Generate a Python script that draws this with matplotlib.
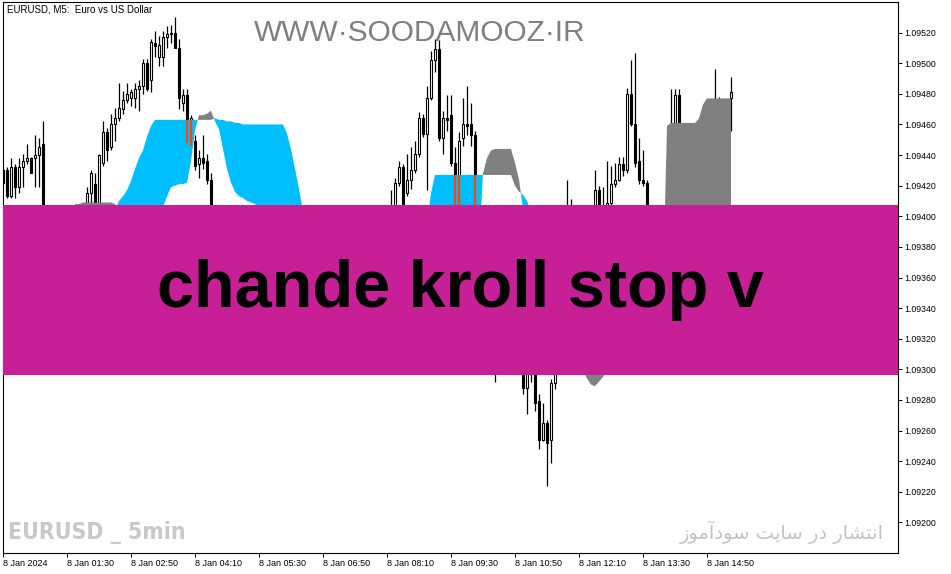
import os
import numpy as np
import matplotlib
matplotlib.use("Agg")
import matplotlib.pyplot as plt
from matplotlib import font_manager as fm
from matplotlib.patches import Rectangle

plt.rcParams['font.family'] = ['Liberation Sans', 'DejaVu Sans']

# ---------------- data (EURUSD M5, bar index 0..182) ----------------
opens = [1.09430, 1.09430, 1.09413, 1.09432, 1.09419, 1.09432, 1.09436, 1.09438, 1.09438, 1.09440,
         1.09447, 1.09360, 1.09350, 1.09345, 1.09362, 1.09372, 1.09360, 1.09370, 1.09385, 1.09378,
         1.09390, 1.09398, 1.09415, 1.09421, 1.09398, 1.09435, 1.09455, 1.09445, 1.09460, 1.09464,
         1.09470, 1.09476, 1.09477, 1.09477, 1.09483, 1.09485, 1.09500, 1.09489, 1.09513, 1.09504,
         1.09504, 1.09517, 1.09519, 1.09520, 1.09510, 1.09474, 1.09479, 1.09449, 1.09449, 1.09434,
         1.09438, 1.09436, 1.09424, 1.09395, 1.09388, 1.09380, 1.09372, 1.09375, 1.09366, 1.09360,
         1.09352, 1.09356, 1.09348, 1.09340, 1.09345, 1.09338, 1.09330, 1.09325, 1.09332, 1.09328,
         1.09320, 1.09315, 1.09322, 1.09318, 1.09325, 1.09335, 1.09330, 1.09340, 1.09348, 1.09344,
         1.09352, 1.09360, 1.09355, 1.09362, 1.09370, 1.09366, 1.09372, 1.09378, 1.09374, 1.09380,
         1.09386, 1.09382, 1.09388, 1.09384, 1.09390, 1.09386, 1.09392, 1.09395, 1.09400, 1.09422,
         1.09432, 1.09415, 1.09424, 1.09430, 1.09441, 1.09464, 1.09454, 1.09477, 1.09502, 1.09509,
         1.09451, 1.09464, 1.09466, 1.09435, 1.09400, 1.09451, 1.09460, 1.09460, 1.09453, 1.09395,
         1.09378, 1.09355, 1.09325, 1.09332, 1.09312, 1.09325, 1.09318, 1.09322, 1.09315, 1.09320,
         1.09318, 1.09288, 1.09305, 1.09300, 1.09279, 1.09254, 1.09265, 1.09254, 1.09291, 1.09305,
         1.09335, 1.09365, 1.09390, 1.09378, 1.09385, 1.09392, 1.09384, 1.09390, 1.09398, 1.09417,
         1.09400, 1.09398, 1.09409, 1.09421, 1.09424, 1.09434, 1.09430, 1.09480, 1.09460, 1.09436,
         1.09424, 1.09422, 1.09395, 1.09380, 1.09388, 1.09392, 1.09398, 1.09432, 1.09455, 1.09479,
         1.09455, 1.09450, 1.09445, 1.09455, 1.09452, 1.09458, 1.09465, 1.09470, 1.09466, 1.09472,
         1.09468, 1.09472, 1.09477]
highs = [1.09432, 1.09432, 1.09438, 1.09434, 1.09438, 1.09441, 1.09447, 1.09439, 1.09453, 1.09451,
         1.09462, 1.09378, 1.09365, 1.09370, 1.09380, 1.09385, 1.09378, 1.09390, 1.09398, 1.09395,
         1.09402, 1.09419, 1.09430, 1.09428, 1.09441, 1.09462, 1.09458, 1.09467, 1.09471, 1.09487,
         1.09482, 1.09487, 1.09483, 1.09487, 1.09489, 1.09503, 1.09503, 1.09516, 1.09521, 1.09518,
         1.09521, 1.09524, 1.09525, 1.09530, 1.09516, 1.09483, 1.09483, 1.09466, 1.09453, 1.09443,
         1.09453, 1.09441, 1.09428, 1.09400, 1.09396, 1.09388, 1.09384, 1.09380, 1.09372, 1.09366,
         1.09364, 1.09360, 1.09354, 1.09352, 1.09350, 1.09344, 1.09336, 1.09340, 1.09338, 1.09334,
         1.09326, 1.09330, 1.09328, 1.09332, 1.09342, 1.09340, 1.09346, 1.09355, 1.09352, 1.09358,
         1.09366, 1.09364, 1.09368, 1.09376, 1.09374, 1.09378, 1.09384, 1.09382, 1.09386, 1.09392,
         1.09390, 1.09394, 1.09392, 1.09396, 1.09394, 1.09398, 1.09401, 1.09417, 1.09425, 1.09436,
         1.09434, 1.09441, 1.09445, 1.09449, 1.09468, 1.09467, 1.09485, 1.09508, 1.09516, 1.09515,
         1.09469, 1.09479, 1.09479, 1.09445, 1.09455, 1.09477, 1.09485, 1.09474, 1.09456, 1.09402,
         1.09385, 1.09362, 1.09340, 1.09345, 1.09330, 1.09338, 1.09330, 1.09335, 1.09328, 1.09332,
         1.09328, 1.09312, 1.09318, 1.09306, 1.09284, 1.09278, 1.09267, 1.09294, 1.09315, 1.09340,
         1.09372, 1.09424, 1.09411, 1.09395, 1.09400, 1.09402, 1.09398, 1.09403, 1.09430, 1.09420,
         1.09419, 1.09436, 1.09433, 1.09435, 1.09439, 1.09439, 1.09484, 1.09502, 1.09507, 1.09451,
         1.09443, 1.09424, 1.09402, 1.09395, 1.09400, 1.09403, 1.09438, 1.09483, 1.09483, 1.09483,
         1.09460, 1.09458, 1.09459, 1.09460, 1.09462, 1.09470, 1.09475, 1.09476, 1.09496, 1.09478,
         1.09476, 1.09476, 1.09491]
lows = [1.09420, 1.09412, 1.09412, 1.09412, 1.09415, 1.09419, 1.09434, 1.09428, 1.09419, 1.09419,
        1.09355, 1.09340, 1.09330, 1.09335, 1.09350, 1.09355, 1.09345, 1.09362, 1.09370, 1.09368,
        1.09380, 1.09392, 1.09395, 1.09390, 1.09392, 1.09433, 1.09436, 1.09443, 1.09449, 1.09462,
        1.09467, 1.09474, 1.09472, 1.09471, 1.09469, 1.09480, 1.09482, 1.09481, 1.09504, 1.09498,
        1.09498, 1.09510, 1.09513, 1.09510, 1.09470, 1.09469, 1.09448, 1.09446, 1.09430, 1.09425,
        1.09431, 1.09421, 1.09380, 1.09382, 1.09374, 1.09366, 1.09368, 1.09360, 1.09354, 1.09346,
        1.09348, 1.09342, 1.09334, 1.09336, 1.09332, 1.09324, 1.09318, 1.09320, 1.09322, 1.09314,
        1.09308, 1.09310, 1.09312, 1.09314, 1.09320, 1.09324, 1.09326, 1.09335, 1.09338, 1.09340,
        1.09348, 1.09350, 1.09352, 1.09358, 1.09360, 1.09362, 1.09368, 1.09368, 1.09370, 1.09376,
        1.09376, 1.09378, 1.09378, 1.09380, 1.09380, 1.09382, 1.09386, 1.09385, 1.09395, 1.09420,
        1.09400, 1.09413, 1.09418, 1.09428, 1.09439, 1.09452, 1.09417, 1.09476, 1.09494, 1.09449,
        1.09441, 1.09456, 1.09433, 1.09390, 1.09395, 1.09446, 1.09453, 1.09446, 1.09385, 1.09372,
        1.09350, 1.09318, 1.09305, 1.09292, 1.09302, 1.09310, 1.09303, 1.09308, 1.09302, 1.09305,
        1.09284, 1.09271, 1.09292, 1.09273, 1.09248, 1.09253, 1.09224, 1.09239, 1.09287, 1.09300,
        1.09330, 1.09360, 1.09370, 1.09362, 1.09370, 1.09378, 1.09372, 1.09380, 1.09390, 1.09392,
        1.09385, 1.09390, 1.09407, 1.09419, 1.09423, 1.09426, 1.09428, 1.09459, 1.09432, 1.09421,
        1.09420, 1.09385, 1.09370, 1.09365, 1.09372, 1.09380, 1.09392, 1.09428, 1.09450, 1.09448,
        1.09440, 1.09438, 1.09440, 1.09445, 1.09445, 1.09450, 1.09458, 1.09460, 1.09460, 1.09462,
        1.09460, 1.09465, 1.09456]
closes = [1.09422, 1.09413, 1.09432, 1.09419, 1.09432, 1.09436, 1.09438, 1.09428, 1.09440, 1.09445,
          1.09360, 1.09350, 1.09345, 1.09362, 1.09372, 1.09360, 1.09370, 1.09385, 1.09378, 1.09390,
          1.09396, 1.09415, 1.09428, 1.09398, 1.09440, 1.09455, 1.09443, 1.09460, 1.09464, 1.09471,
          1.09476, 1.09480, 1.09481, 1.09483, 1.09485, 1.09500, 1.09483, 1.09514, 1.09511, 1.09512,
          1.09517, 1.09519, 1.09520, 1.09510, 1.09477, 1.09479, 1.09449, 1.09464, 1.09433, 1.09438,
          1.09435, 1.09424, 1.09395, 1.09388, 1.09380, 1.09372, 1.09375, 1.09366, 1.09360, 1.09352,
          1.09356, 1.09348, 1.09340, 1.09345, 1.09338, 1.09330, 1.09325, 1.09332, 1.09328, 1.09320,
          1.09315, 1.09322, 1.09318, 1.09325, 1.09335, 1.09330, 1.09340, 1.09348, 1.09344, 1.09352,
          1.09360, 1.09355, 1.09362, 1.09370, 1.09366, 1.09372, 1.09378, 1.09374, 1.09380, 1.09386,
          1.09382, 1.09388, 1.09384, 1.09390, 1.09386, 1.09392, 1.09395, 1.09400, 1.09422, 1.09432,
          1.09408, 1.09424, 1.09430, 1.09441, 1.09464, 1.09454, 1.09477, 1.09502, 1.09509, 1.09451,
          1.09464, 1.09463, 1.09435, 1.09400, 1.09449, 1.09460, 1.09459, 1.09453, 1.09395, 1.09378,
          1.09355, 1.09325, 1.09332, 1.09312, 1.09325, 1.09318, 1.09322, 1.09315, 1.09320, 1.09318,
          1.09288, 1.09305, 1.09300, 1.09278, 1.09254, 1.09265, 1.09252, 1.09291, 1.09305, 1.09335,
          1.09365, 1.09390, 1.09378, 1.09385, 1.09392, 1.09384, 1.09390, 1.09398, 1.09417, 1.09400,
          1.09395, 1.09409, 1.09421, 1.09424, 1.09434, 1.09430, 1.09480, 1.09460, 1.09435, 1.09424,
          1.09422, 1.09395, 1.09380, 1.09388, 1.09392, 1.09398, 1.09432, 1.09455, 1.09479, 1.09455,
          1.09450, 1.09445, 1.09455, 1.09452, 1.09458, 1.09465, 1.09470, 1.09466, 1.09472, 1.09468,
          1.09472, 1.09474, 1.09481]

# Chande Kroll stop lines (two stops; filled blue / gray between them)
stop_a = [1.09380, 1.09380, 1.09380, 1.09380, 1.09380, 1.09380, 1.09380, 1.09380, 1.09380, 1.09380,
          1.09380, 1.09380, 1.09380, 1.09380, 1.09380, 1.09380, 1.09380, 1.09380, 1.09385, 1.09385,
          1.09385, 1.09385, 1.09385, 1.09385, 1.09385, 1.09385, 1.09385, 1.09385, 1.09403, 1.09410,
          1.09413, 1.09417, 1.09423, 1.09431, 1.09438, 1.09443, 1.09452, 1.09459, 1.09463, 1.09463,
          1.09463, 1.09463, 1.09463, 1.09463, 1.09463, 1.09463, 1.09463, 1.09463, 1.09463, 1.09463,
          1.09463, 1.09463, 1.09463, 1.09464, 1.09463, 1.09463, 1.09462, 1.09462, 1.09461, 1.09461,
          1.09460, 1.09460, 1.09460, 1.09460, 1.09460, 1.09460, 1.09460, 1.09460, 1.09460, 1.09460,
          1.09460, 1.09454, 1.09444, 1.09431, 1.09418, 1.09403, 1.09385, 1.09385, 1.09385, 1.09385,
          1.09385, 1.09385, 1.09385, 1.09385, 1.09385, 1.09385, 1.09385, 1.09385, 1.09385, 1.09385,
          1.09385, 1.09385, 1.09385, 1.09385, 1.09385, 1.09385, 1.09385, 1.09385, 1.09385, 1.09385,
          1.09385, 1.09385, 1.09385, 1.09385, 1.09385, 1.09385, 1.09395, 1.09415, 1.09427, 1.09427,
          1.09427, 1.09427, 1.09427, 1.09427, 1.09427, 1.09427, 1.09427, 1.09427, 1.09427, 1.09427,
          1.09427, 1.09427, 1.09427, 1.09427, 1.09427, 1.09427, 1.09427, 1.09427, 1.09420, 1.09416,
          1.09414, 1.09410, 1.09403, 1.09370, 1.09370, 1.09370, 1.09370, 1.09370, 1.09370, 1.09370,
          1.09330, 1.09315, 1.09305, 1.09302, 1.09300, 1.09299, 1.09294, 1.09290, 1.09289, 1.09292,
          1.09295, 1.09300, 1.09305, 1.09371, 1.09371, 1.09371, 1.09371, 1.09371, 1.09371, 1.09371,
          1.09371, 1.09371, 1.09371, 1.09371, 1.09371, 1.09371, 1.09371, 1.09371, 1.09371, 1.09371,
          1.09371, 1.09371, 1.09371, 1.09371, 1.09371, 1.09371, 1.09371, 1.09371, 1.09371, 1.09371,
          1.09371, 1.09371, 1.09371]
stop_b = [1.09390, 1.09390, 1.09390, 1.09390, 1.09390, 1.09390, 1.09390, 1.09390, 1.09390, 1.09390,
          1.09390, 1.09390, 1.09390, 1.09390, 1.09390, 1.09390, 1.09390, 1.09390, 1.09408, 1.09408,
          1.09409, 1.09409, 1.09409, 1.09409, 1.09409, 1.09409, 1.09409, 1.09409, 1.09408, 1.09398,
          1.09398, 1.09398, 1.09398, 1.09398, 1.09398, 1.09398, 1.09398, 1.09398, 1.09398, 1.09398,
          1.09406, 1.09413, 1.09419, 1.09420, 1.09421, 1.09421, 1.09422, 1.09436, 1.09456, 1.09466,
          1.09466, 1.09467, 1.09469, 1.09462, 1.09457, 1.09444, 1.09431, 1.09422, 1.09416, 1.09413,
          1.09412, 1.09410, 1.09409, 1.09408, 1.09406, 1.09370, 1.09370, 1.09370, 1.09370, 1.09370,
          1.09370, 1.09370, 1.09370, 1.09370, 1.09370, 1.09370, 1.09370, 1.09370, 1.09370, 1.09370,
          1.09370, 1.09370, 1.09370, 1.09370, 1.09370, 1.09370, 1.09370, 1.09370, 1.09370, 1.09370,
          1.09370, 1.09370, 1.09370, 1.09370, 1.09370, 1.09370, 1.09370, 1.09370, 1.09370, 1.09370,
          1.09370, 1.09370, 1.09370, 1.09370, 1.09370, 1.09370, 1.09370, 1.09380, 1.09380, 1.09380,
          1.09380, 1.09380, 1.09380, 1.09380, 1.09380, 1.09380, 1.09380, 1.09380, 1.09380, 1.09380,
          1.09428, 1.09438, 1.09443, 1.09444, 1.09444, 1.09444, 1.09444, 1.09444, 1.09435, 1.09424,
          1.09405, 1.09395, 1.09390, 1.09350, 1.09350, 1.09350, 1.09350, 1.09350, 1.09350, 1.09350,
          1.09335, 1.09335, 1.09335, 1.09335, 1.09335, 1.09335, 1.09335, 1.09335, 1.09335, 1.09335,
          1.09335, 1.09335, 1.09335, 1.09350, 1.09350, 1.09350, 1.09350, 1.09350, 1.09350, 1.09350,
          1.09350, 1.09350, 1.09350, 1.09350, 1.09350, 1.09350, 1.09459, 1.09461, 1.09461, 1.09461,
          1.09461, 1.09461, 1.09461, 1.09461, 1.09464, 1.09473, 1.09477, 1.09477, 1.09477, 1.09477,
          1.09477, 1.09477, 1.09477]

signal_bars = [46, 47, 113, 114, 118]

tick_bars = [0, 16, 32, 48, 64, 80, 96, 112, 128, 144, 160, 176]
tick_labels = ["8 Jan 2024", "8 Jan 01:30", "8 Jan 02:50", "8 Jan 04:10", "8 Jan 05:30",
               "8 Jan 06:50", "8 Jan 08:10", "8 Jan 09:30", "8 Jan 10:50", "8 Jan 12:10",
               "8 Jan 13:30", "8 Jan 14:50"]
price_ticks = [1.09200, 1.09220, 1.09240, 1.09260, 1.09280, 1.09300, 1.09320, 1.09340,
               1.09360, 1.09380, 1.09400, 1.09420, 1.09440, 1.09460, 1.09480, 1.09500, 1.09520]

title_text = "EURUSD, M5:  Euro vs US Dollar"
banner_text = "chande kroll stop v"
site_text = "WWW\u00b7SOODAMOOZ\u00b7IR"
tf_text = "EURUSD _ 5min"
# Persian: "انتشار در سایت سودآموز" (shaped presentation forms, visual order)
fa_text = ("\uFEAF\uFEEE\uFEE3\uFE81\uFEA9\uFEEE\uFEB3 \uFE96\uFBFE\uFE8E\uFEB3 "
           "\uFEAD\uFEA9 \uFEAD\uFE8E\uFEB8\uFE98\uFEE7\uFE8D")

# ---------------- figure ----------------
W, H = 951, 574
fig = plt.figure(figsize=(W / 100, H / 100), dpi=100)
fig.patch.set_facecolor("white")
ax = fig.add_axes([3 / W, 1 - 553 / H, 895 / W, 551 / H])
ax.set_xlim(0, 223.75)
ax.set_ylim(1.09180, 1.09540)

x = np.arange(len(opens))
o = np.array(opens); h = np.array(highs); l = np.array(lows); c = np.array(closes)
a = np.array(stop_a); b = np.array(stop_b)
up = c >= o

ax.vlines(x, l, h, color="black", lw=0.9, zorder=2)
bb = np.minimum(o, c)
bh = np.abs(c - o)
ax.bar(x[up], bh[up], bottom=bb[up], width=0.72, facecolor="white",
       edgecolor="black", linewidth=0.8, zorder=3)
ax.bar(x[~up], bh[~up], bottom=bb[~up], width=0.72, facecolor="black",
       edgecolor="black", linewidth=0.8, zorder=3)

ax.fill_between(x, a, b, where=a >= b, interpolate=True, color="#00BFFF", lw=0, zorder=4)
ax.fill_between(x, a, b, where=b > a, interpolate=True, color="#808080", lw=0, zorder=4)

for i in signal_bars:
    ax.vlines(i, l[i], a[i], color="#FF4500", lw=1.6, zorder=5)

# banner
ax.add_patch(Rectangle((0, (553 - 375) / 551), 1, 170 / 551, transform=ax.transAxes,
                       facecolor="#C71F96", edgecolor="none", zorder=10))
ax.text((460 - 3) / 895, (553 - 290) / 551, banner_text, transform=ax.transAxes,
        ha="center", va="center", fontsize=48, fontweight="bold", color="black",
        family=["Liberation Sans", "DejaVu Sans"], zorder=11)

# texts
ax.text(7 / W, 1 - 10 / H, title_text, transform=fig.transFigure, fontsize=7,
        ha="left", va="center", color="black", zorder=12)
ax.text(420 / W, 1 - 33 / H, site_text, transform=fig.transFigure, fontsize=21.5,
        ha="center", va="center", color="#7F7F7F", zorder=1)

cond = None
for f in fm.fontManager.ttflist:
    n = os.path.basename(f.fname).lower()
    if ("condensed" in n or "narrow" in n) and "bold" in n and "italic" not in n and "oblique" not in n:
        cond = f.fname
        break
if cond:
    fp = fm.FontProperties(fname=cond, size=16.5)
else:
    fp = fm.FontProperties(family="Liberation Sans", weight="bold", size=16)
ax.text(8 / W, 1 - 533 / H, tf_text, transform=fig.transFigure, fontproperties=fp,
        ha="left", va="center", color="#C8C8C8", zorder=1)
ax.text(782 / W, 1 - 532 / H, fa_text, transform=fig.transFigure, fontsize=14,
        family=["DejaVu Sans"], ha="center", va="center", color="#C3C3C3", zorder=1)

# axes styling
for s in ax.spines.values():
    s.set_color("black")
    s.set_linewidth(0.8)
ax.yaxis.tick_right()
ax.set_yticks(price_ticks)
ax.set_yticklabels([f"{p:.5f}" for p in price_ticks])
ax.set_xticks(tick_bars)
ax.set_xticklabels(tick_labels, ha="left")
ax.tick_params(axis="y", direction="out", length=3, width=0.7, pad=1.5, labelsize=6.3,
               right=True, left=False, labelright=True, labelleft=False)
ax.tick_params(axis="x", direction="out", length=3, width=0.7, pad=1.5, labelsize=6.5)

fig.savefig("out.png", dpi=100)
